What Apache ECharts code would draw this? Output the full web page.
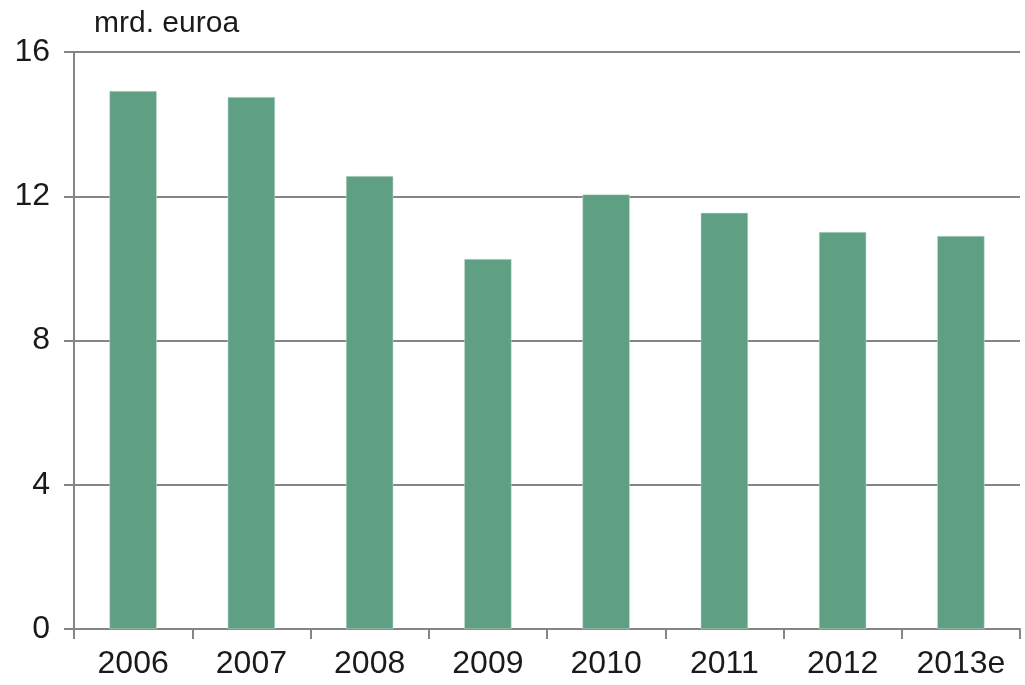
<!DOCTYPE html>
<html>
<head>
<meta charset="utf-8">
<script src="https://cdn.jsdelivr.net/npm/echarts@6/dist/echarts.min.js"></script>
<style>
  html, body { margin: 0; padding: 0; background: #fff; }
  #main { width: 1025px; height: 685px; }
</style>
</head>
<body>
<div id="main"></div>
<script>
// categories and values
var years = ['2006', '2007', '2008', '2009', '2010', '2011', '2012', '2013e'];
var values = [14.92, 14.75, 12.56, 10.26, 12.05, 11.54, 11.01, 10.9];

var myChart = echarts.init(document.getElementById('main'));

var axisColor = '#858585';
var font = 'Liberation Sans, Arial, sans-serif';

var option = {
    backgroundColor: '#fff',
    animation: false,
    title: {
        text: 'mrd. euroa',
        left: 89,
        top: 4,
        textStyle: { fontFamily: font, fontSize: 30, fontWeight: 'normal', color: '#1a1a1a' }
    },
    grid: { left: 74, right: 5, top: 52, bottom: 56 },
    xAxis: {
        type: 'category',
        data: years,
        axisLine: { lineStyle: { color: axisColor, width: 2 } },
        axisTick: { show: true, length: 10, lineStyle: { color: axisColor, width: 2 } },
        axisLabel: { fontFamily: font, fontSize: 32, color: '#1a1a1a', margin: 19 }
    },
    yAxis: {
        type: 'value',
        min: 0,
        max: 16,
        interval: 4,
        axisLine: { show: true, lineStyle: { color: axisColor, width: 2 } },
        axisTick: { show: true, length: 10, lineStyle: { color: axisColor, width: 2 } },
        splitLine: { lineStyle: { color: axisColor, width: 2 } },
        axisLabel: { fontFamily: font, fontSize: 32, color: '#1a1a1a', margin: 24 }
    },
    series: [
        {
            type: 'bar',
            data: values,
            barWidth: '40%',
            itemStyle: { color: '#5f9f83', borderColor: '#cfe3d8', borderWidth: 0.5 }
        }
    ]
};
myChart.setOption(option);
</script>
</body>
</html>
